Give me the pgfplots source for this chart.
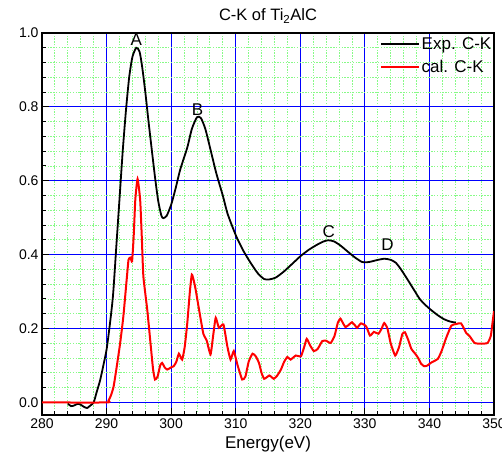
\documentclass[border=0pt]{standalone}
\usepackage{fontspec}
\setmainfont{Liberation Sans}
\usepackage{pgfplots}
\pgfplotsset{compat=1.18}
\definecolor{gridgreen}{RGB}{135,250,135}
\begin{document}
\begin{tikzpicture}[x=1pt,y=1pt]
\path[use as bounding box] (-42,-38) rectangle (460,415);
\begin{axis}[at={(0,0)}, anchor=south west, scale only axis,
  width=452pt, height=382pt,
  xmin=280, xmax=350, ymin=-0.034, ymax=1.0,
  xtick={280,290,300,310,320,330,340,350},
  ytick={0,0.2,0.4,0.6,0.8,1.0},
  minor x tick num=4, minor y tick num=4,
  grid=both,
  major grid style={blue, line width=0.9pt},
  minor grid style={gridgreen, dash pattern=on 1.3pt off 1.5pt, line width=0.85pt},
  tick pos=left, tick align=inside,
  major tick length=7pt, minor tick length=4pt,
  every tick/.style={black, line width=1pt},
  axis line style={black, line width=1.2pt},
  /pgf/number format/assume math mode=true,
  yticklabel style={/pgf/number format/.cd, fixed, fixed zerofill, precision=1},
  xticklabel style={/pgf/number format/.cd, fixed, precision=0},
  ticklabel style={font=\fontsize{14}{16}\selectfont},
  title={C-K of Ti\textsubscript{2}AlC},
  title style={at={(axis description cs:0.5,1)}, anchor=base, yshift=6pt, font=\fontsize{16.5}{18}\selectfont},
  xlabel={Energy(eV)},
  xlabel style={at={(axis description cs:0.5,0)}, anchor=base, yshift=-33pt, font=\fontsize{17}{18}\selectfont},
  legend style={draw=none, fill=none, at={(axis description cs:1,1)}, anchor=north east, xshift=2pt, yshift=-1pt,
    font=\fontsize{17}{19}\selectfont, row sep=6pt, nodes={inner sep=1.5pt}},
  legend cell align=left,
  legend image code/.code={\draw[#1] (0pt,0pt) -- (38pt,0pt);},
]
\addplot[black, line width=1.8pt, smooth, tension=0.4] coordinates {
(284,-0.003)(284.5,-0.01)(285,-0.008)(285.5,-0.004)(286,-0.006)(286.5,-0.012)(287,-0.015)(287.5,-0.008)(288,0.0)(288.5,0.03)(289,0.06)(289.5,0.1)(290,0.143)(290.5,0.21)(291,0.29)(291.5,0.42)(292,0.55)(292.5,0.68)(293,0.79)(293.5,0.88)(294,0.935)(294.6,0.96)(295.1,0.95)(295.5,0.91)(296,0.84)(296.5,0.76)(297,0.684)(297.5,0.61)(298,0.545)(298.5,0.505)(298.8,0.499)(299.3,0.505)(300,0.535)(300.7,0.58)(301.4,0.63)(302.5,0.69)(303.2,0.74)(304,0.772)(304.6,0.77)(305.3,0.74)(306.1,0.684)(307,0.62)(308,0.56)(308.7,0.513)(309.5,0.475)(310.2,0.445)(311.2,0.41)(312.3,0.378)(313.4,0.35)(314.4,0.334)(315.2,0.333)(316.2,0.338)(317.5,0.355)(318.8,0.376)(320.1,0.397)(321.3,0.413)(322.5,0.426)(323.5,0.435)(324.3,0.439)(325.2,0.436)(326.2,0.425)(327.3,0.409)(328.5,0.392)(329.6,0.38)(330.6,0.38)(331.8,0.385)(333,0.389)(334,0.386)(334.8,0.378)(335.6,0.36)(336.6,0.333)(337.6,0.305)(338.5,0.28)(339.3,0.265)(340.2,0.251)(341.3,0.236)(342.3,0.225)(343.2,0.219)(344.1,0.216)
};
\addlegendentry{Exp. C-K}
\addplot[red, line width=2pt, smooth, tension=0.3] coordinates {
(280,0)(290,0)(290.3,0.005)(290.7,0.02)(291.1,0.044)(291.6,0.1)(292.1,0.16)(292.6,0.233)(293.1,0.33)(293.4,0.386)(293.7,0.392)(293.95,0.382)(294.2,0.45)(294.45,0.549)(294.8,0.605)(295.2,0.549)(295.45,0.45)(295.7,0.341)(296.3,0.251)(296.8,0.161)(297.2,0.09)(297.5,0.062)(297.9,0.07)(298.3,0.1)(298.6,0.107)(299.0,0.095)(299.4,0.089)(300.0,0.095)(300.4,0.098)(300.8,0.11)(301.2,0.132)(301.7,0.116)(302.1,0.15)(302.5,0.215)(302.9,0.3)(303.2,0.346)(303.5,0.33)(303.8,0.305)(304.5,0.233)(305.0,0.185)(305.5,0.168)(306.1,0.13)(306.5,0.18)(306.9,0.229)(307.4,0.202)(308.1,0.211)(308.7,0.152)(309.2,0.116)(309.7,0.139)(310.3,0.1)(311.0,0.062)(311.5,0.07)(312.0,0.11)(312.6,0.132)(313.1,0.125)(313.6,0.107)(314.0,0.08)(314.4,0.064)(314.8,0.068)(315.2,0.073)(315.6,0.068)(315.9,0.064)(316.4,0.072)(317.0,0.089)(317.5,0.11)(318.0,0.123)(318.5,0.116)(319.3,0.127)(320.1,0.125)(320.6,0.15)(321.0,0.172)(321.5,0.155)(322.1,0.139)(322.7,0.145)(323.4,0.166)(324.0,0.167)(324.7,0.161)(325.3,0.18)(325.8,0.215)(326.2,0.227)(326.6,0.215)(327.0,0.204)(327.5,0.21)(328.0,0.217)(328.5,0.208)(328.8,0.202)(329.4,0.214)(330.2,0.206)(330.8,0.181)(331.4,0.191)(332.1,0.186)(332.6,0.2)(333.0,0.215)(333.5,0.2)(334.0,0.16)(334.7,0.127)(335.3,0.15)(335.8,0.185)(336.2,0.19)(336.7,0.17)(337.2,0.145)(337.7,0.134)(338.2,0.122)(338.7,0.105)(339.2,0.098)(339.7,0.1)(340.2,0.107)(341.3,0.118)(341.9,0.14)(342.6,0.175)(343.4,0.208)(344.1,0.212)(344.9,0.214)(345.7,0.188)(346.2,0.18)(347.0,0.161)(348.0,0.159)(349.0,0.161)(349.5,0.18)(349.8,0.22)(350,0.247)
};
\addlegendentry{cal. C-K}
\node[anchor=base, font=\fontsize{17}{18}\selectfont] at (axis cs:294.6,0.965) {A};
\node[anchor=base, font=\fontsize{17}{18}\selectfont] at (axis cs:304.1,0.778) {B};
\node[anchor=base, font=\fontsize{17}{18}\selectfont] at (axis cs:324.4,0.447) {C};
\node[anchor=base, font=\fontsize{17}{18}\selectfont] at (axis cs:333.5,0.411) {D};
\end{axis}
\end{tikzpicture}
\end{document}
